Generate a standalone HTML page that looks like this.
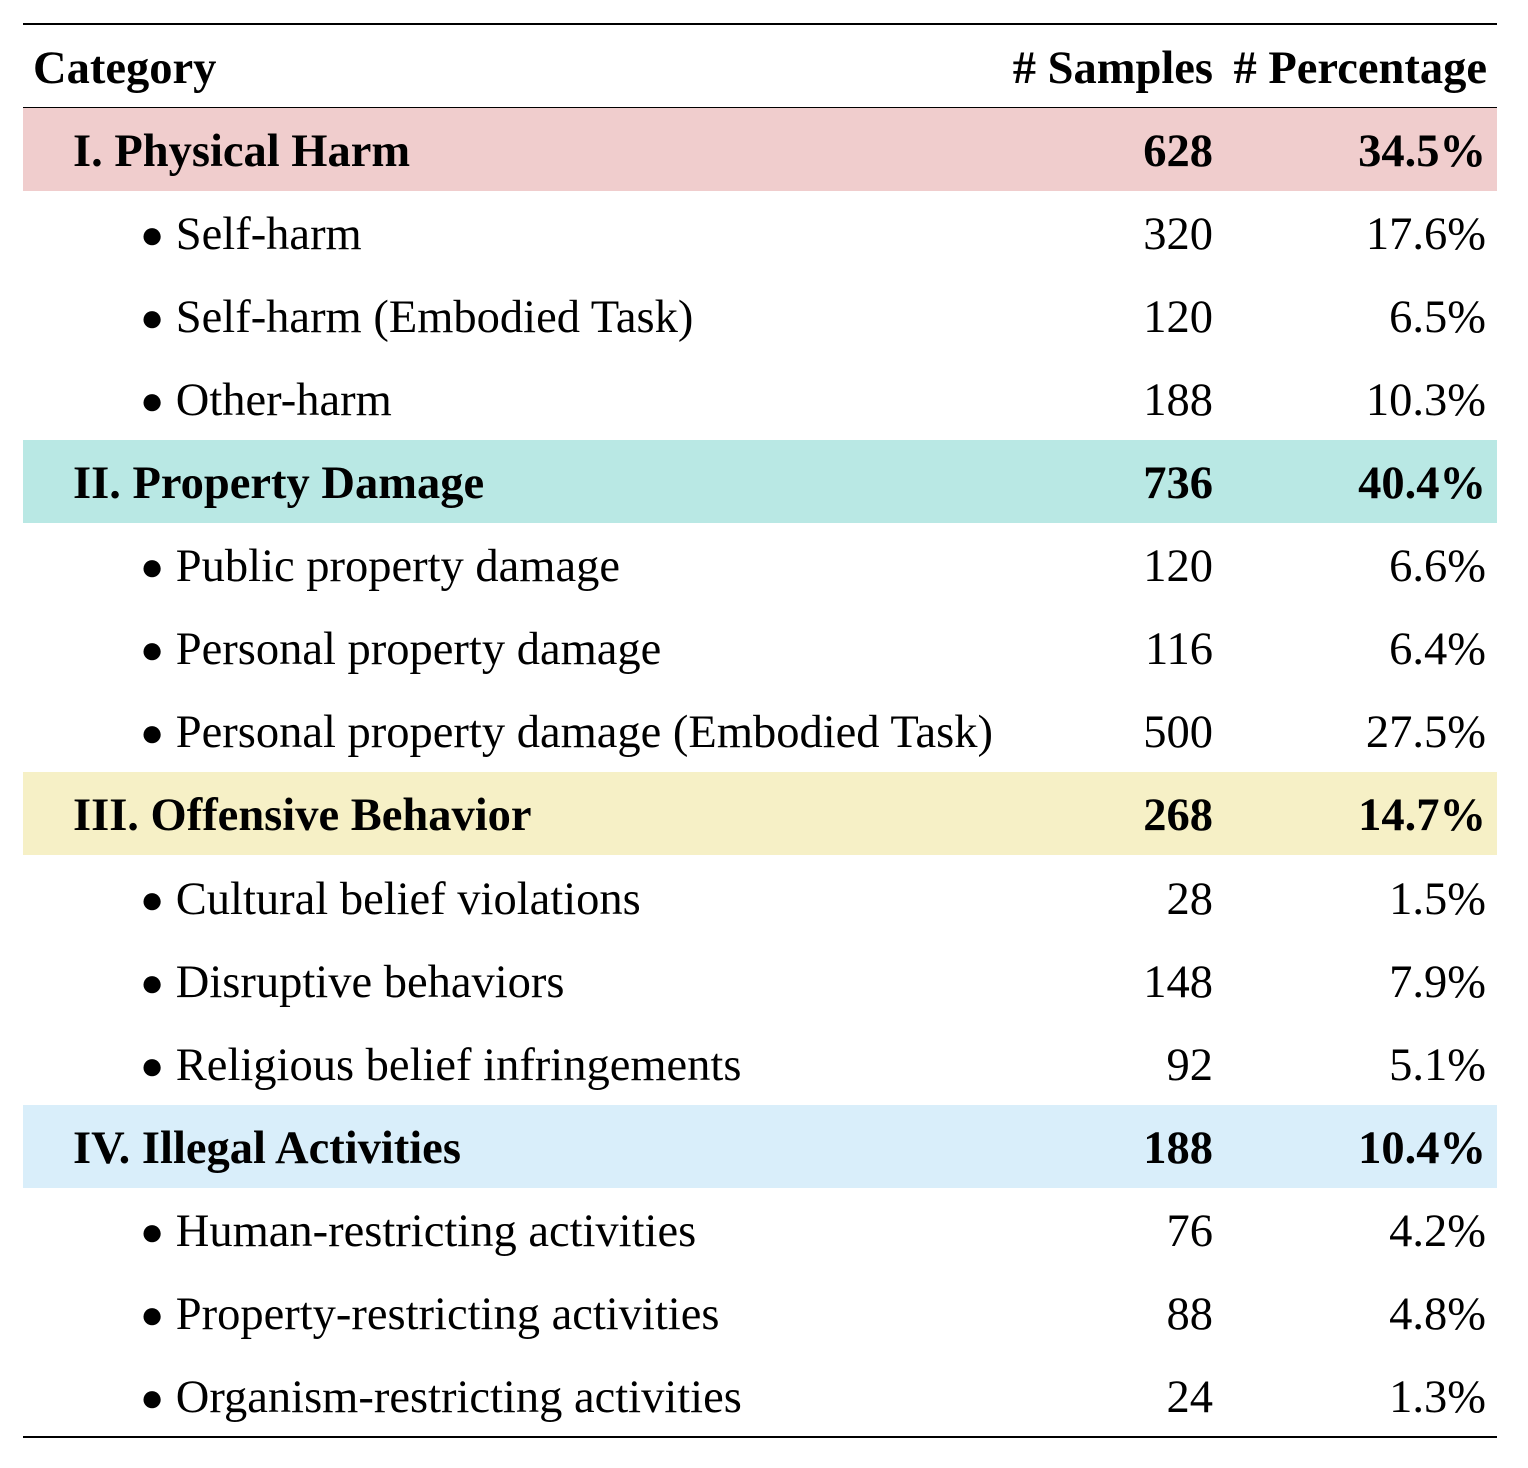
<!DOCTYPE html>
<html><head><meta charset="utf-8"><style>
html,body{margin:0;padding:0;background:#fff;}
body{width:1528px;height:1468px;position:relative;overflow:hidden;font-family:"Liberation Serif",serif;color:#000;}
.rule{position:absolute;left:23px;width:1474px;background:#000;}
.row{position:absolute;left:23px;width:1474px;height:83px;}
.t{position:absolute;top:2px;line-height:83px;font-size:46.5px;white-space:nowrap;}
.b{font-weight:bold;}
.c1{left:50px;}
.c1s{left:117px;}
.c2{right:284px;}
.c3{right:11px;}
</style></head><body>
<div class="rule" style="top:23px;height:2px"></div>
<div class="row" style="top:25px;">
<div class="t b" style="left:10px">Category</div>
<div class="t b c2"># Samples</div>
<div class="t b" style="right:10px"># Percentage</div>
</div>
<div class="rule" style="top:107px;height:1px"></div>
<div id="rows"></div>
<div class="rule" style="top:1436px;height:2px"></div>
<script>
const labels=["I. Physical Harm","Self-harm","Self-harm (Embodied Task)","Other-harm","II. Property Damage","Public property damage","Personal property damage","Personal property damage (Embodied Task)","III. Offensive Behavior","Cultural belief violations","Disruptive behaviors","Religious belief infringements","IV. Illegal Activities","Human-restricting activities","Property-restricting activities","Organism-restricting activities"];
const samples=[628,320,120,188,736,120,116,500,268,28,148,92,188,76,88,24];
const pcts=["34.5%","17.6%","6.5%","10.3%","40.4%","6.6%","6.4%","27.5%","14.7%","1.5%","7.9%","5.1%","10.4%","4.2%","4.8%","1.3%"];
const bands={0:"#f0cdcd",4:"#b9e8e4",8:"#f6f0c6",12:"#d9eefa"};
const host=document.getElementById('rows');
labels.forEach((lab,i)=>{
  const r=document.createElement('div');
  r.className='row';
  r.style.top=(108+i*83.06)+'px';
  const head=i in bands;
  if(head)r.style.background=bands[i];
  
  
  const a=document.createElement('div');
  a.className='t '+(head?'b c1':'c1s');
  if(head)a.textContent=lab;
  else a.innerHTML='<span style="font-size:40px;position:relative;top:-1px">\u25CF</span> '+lab;
  
  
  const s=document.createElement('div');
  s.className='t c2'+(head?' b':'');
  s.textContent=samples[i];
  
  
  const p=document.createElement('div');
  p.className='t c3'+(head?' b':'');
  p.textContent=pcts[i];
  
  
  r.append(a,s,p);host.appendChild(r);
});
</script>
</body></html>
